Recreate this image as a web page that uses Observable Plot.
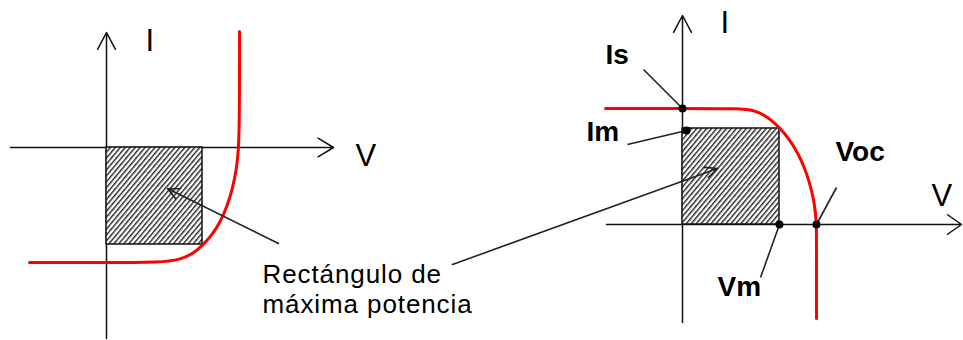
<!DOCTYPE html>
<html><head><meta charset="utf-8">
<script src="https://cdn.jsdelivr.net/npm/d3@7"></script>
<script src="https://cdn.jsdelivr.net/npm/@observablehq/plot@0.6"></script>
<style>
html,body{margin:0;padding:0;background:#fff;}
#chart{position:relative;width:963px;height:340px;overflow:hidden;background:#fff;}
#chart svg{position:absolute;left:0;top:0;background:transparent;}
</style></head><body><div id="chart"></div>
<script>
// ---- Left panel (diode in the dark / load convention), schematic units V, I ----
const leftCurveV = [-7.7, -0.6, 5.5, 7.4, 8.6, 9.6, 10.6, 11.4, 12.1, 12.6, 13.0, 13.2, 13.3, 13.3];
const leftCurveI = [-11.5, -11.5, -11.5, -11.2, -10.65, -9.8, -8.7, -7.4, -5.8, -4.1, -2.2, -0.3, 2.7, 11.6];
const leftRectV = [0, 9.6];
const leftRectI = [0, -9.7];
const leftAxisV = [-9.6, 22.7];   // horizontal axis extent
const leftAxisI = [-19.1, 11.5];  // vertical axis extent
const leftPointer = [17.2, -9.6, 6.1, -4.1]; // from V,I to V,I
const leftLabels = ["I", "V"];
const leftLabelV = [3.9, 24.9];
const leftLabelI = [9.7, -1.8];
const captionLines = ["Rectángulo de", "máxima potencia"];
const captionV = [15.6, 15.6];
const captionI = [-13.5, -16.5];

// ---- Right panel (generator convention) ----
const rightCurveV = [-7.7, -0.2, 5.8, 7.3, 8.6, 9.7, 10.7, 11.5, 12.2, 12.7, 13.1, 13.3, 13.4, 13.4, 13.4];
const rightCurveI = [11.6, 11.6, 11.6, 11.4, 10.7, 9.7, 8.5, 7.2, 5.7, 4.2, 2.6, 1.2, 0, -3.6, -9.4];
const rightRectV = [0, 9.7];
const rightRectI = [0, 9.6];
const rightAxisV = [-7.6, 27.9];
const rightAxisI = [-9.8, 20.9];
const pointNames = ["Is", "Im", "Vm", "Voc"];
const pointV = [0, 0.4, 9.7, 13.4];
const pointI = [11.6, 9.4, 0, 0];
const leaderFromV = [-3.9, -5.5, 7.8, 15.4];
const leaderFromI = [15.5, 8.0, -5.3, 3.7];
const boldLabelV = [-7.7, -9.6, 3.5, 15.3];
const boldLabelI = [16.1, 8.4, -7.1, 6.4];
const rightLabels = ["I", "V"];
const rightLabelV = [3.8, 24.9];
const rightLabelI = [19.2, 1.9];
const bigPointer = [-23.0, -4.0, 3.5, 5.6];

const W = 963, H = 340;
const FONT = "'Liberation Sans', Arial, sans-serif";
const AX = "#111", LEAD = "#222", RED = "#ff0000";

function addHatch(svg, id) {
  const defs = d3.select(svg).insert("defs", ":first-child");
  const p = defs.append("pattern").attr("id", id)
    .attr("patternUnits", "userSpaceOnUse")
    .attr("width", 3.8).attr("height", 10)
    .attr("patternTransform", "rotate(40)");
  p.append("rect").attr("width", 3.8).attr("height", 10).attr("fill", "#fff");
  p.append("line").attr("x1", 0.7).attr("y1", -1).attr("x2", 0.7).attr("y2", 11)
    .attr("stroke", "#111").attr("stroke-width", 1.3);
}

const idx = (arr) => arr.map((_, i) => i);

// Left plot
const leftSvg = Plot.plot({
  width: W, height: H, margin: 0,
  x: {domain: [-10.6, 85.7], axis: null},
  y: {domain: [-19.3, 14.7], axis: null},
  marks: [
    Plot.arrow([0], {x1: leftAxisV[0], y1: 0, x2: leftAxisV[1], y2: 0, stroke: AX, strokeWidth: 1.5, headLength: 18, headAngle: 62}),
    Plot.arrow([0], {x1: 0, y1: leftAxisI[0], x2: 0, y2: leftAxisI[1], stroke: AX, strokeWidth: 1.5, headLength: 19, headAngle: 56}),
    Plot.rect([0], {x1: leftRectV[0], x2: leftRectV[1], y1: leftRectI[0], y2: leftRectI[1], fill: "url(#hatchL)", stroke: "#111", strokeWidth: 1.5}),
    Plot.line(idx(leftCurveV), {x: i => leftCurveV[i], y: i => leftCurveI[i], stroke: RED, strokeWidth: 3, curve: "basis"}),
    Plot.arrow([0], {x1: leftPointer[0], y1: leftPointer[1], x2: leftPointer[2], y2: leftPointer[3], stroke: LEAD, strokeWidth: 1.6, headLength: 12, headAngle: 50}),
    Plot.text(leftLabels, {x: (d, i) => leftLabelV[i], y: (d, i) => leftLabelI[i], text: d => d, textAnchor: "start", lineAnchor: "bottom", fontSize: 31, fontFamily: FONT, fill: "#000"}),
    Plot.text(captionLines, {x: (d, i) => captionV[i], y: (d, i) => captionI[i], text: d => d, textAnchor: "start", lineAnchor: "bottom", fontSize: 26, fontFamily: FONT, fill: "#000"})
  ]
});
addHatch(leftSvg, "hatchL");
d3.select(leftSvg).selectAll("text").filter(function () { return this.textContent.length > 3; })
  .style("letter-spacing", "0.9px");

// Right plot
const rightSvg = Plot.plot({
  width: W, height: H, margin: 0,
  x: {domain: [-68.2, 28.1], axis: null},
  y: {domain: [-11.6, 22.4], axis: null},
  marks: [
    Plot.arrow([0], {x1: rightAxisV[0], y1: 0, x2: rightAxisV[1], y2: 0, stroke: AX, strokeWidth: 1.5, headLength: 17, headAngle: 70}),
    Plot.arrow([0], {x1: 0, y1: rightAxisI[0], x2: 0, y2: rightAxisI[1], stroke: AX, strokeWidth: 1.5, headLength: 19, headAngle: 56}),
    Plot.rect([0], {x1: rightRectV[0], x2: rightRectV[1], y1: rightRectI[0], y2: rightRectI[1], fill: "url(#hatchR)", stroke: "#111", strokeWidth: 1.5}),
    Plot.line(idx(rightCurveV), {x: i => rightCurveV[i], y: i => rightCurveI[i], stroke: RED, strokeWidth: 3, curve: "basis"}),
    Plot.link(pointNames, {x1: (d, i) => leaderFromV[i], y1: (d, i) => leaderFromI[i], x2: (d, i) => pointV[i], y2: (d, i) => pointI[i], stroke: LEAD, strokeWidth: 1.6}),
    Plot.arrow([0], {x1: bigPointer[0], y1: bigPointer[1], x2: bigPointer[2], y2: bigPointer[3], stroke: LEAD, strokeWidth: 1.6, headLength: 12, headAngle: 50}),
    Plot.dot(pointNames, {x: (d, i) => pointV[i], y: (d, i) => pointI[i], r: 4, fill: "#000", stroke: "none"}),
    Plot.text(pointNames, {x: (d, i) => boldLabelV[i], y: (d, i) => boldLabelI[i], text: d => d, textAnchor: "start", lineAnchor: "bottom", fontSize: 28, fontWeight: "bold", fontFamily: FONT, fill: "#000"}),
    Plot.text(rightLabels, {x: (d, i) => rightLabelV[i], y: (d, i) => rightLabelI[i], text: d => d, textAnchor: "start", lineAnchor: "bottom", fontSize: 31, fontFamily: FONT, fill: "#000"})
  ]
});
addHatch(rightSvg, "hatchR");

const chart = document.getElementById("chart");
chart.appendChild(leftSvg);
chart.appendChild(rightSvg);
</script>
</body></html>
